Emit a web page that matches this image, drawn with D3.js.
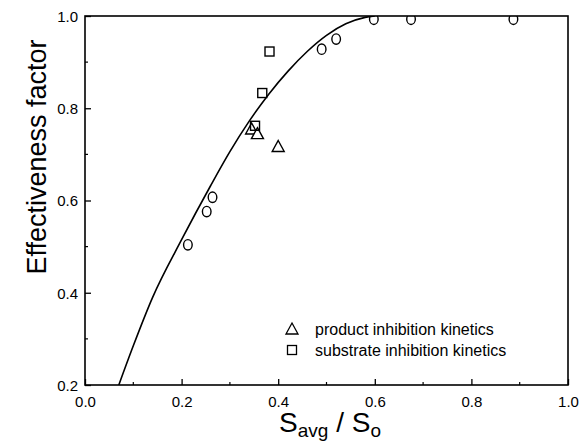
<!DOCTYPE html>
<html>
<head>
<meta charset="utf-8">
<script src="https://cdn.jsdelivr.net/npm/d3@7"></script>
<style>
  html, body { margin: 0; padding: 0; background: #fff; }
  svg { display: block; font-family: "Liberation Sans", Arial, sans-serif; }
</style>
</head>
<body>
<svg id="chart" width="586" height="446"></svg>
<script>
// Model curve: effectiveness factor vs. relative average substrate level
const curveX = [0.070, 0.100, 0.140, 0.200, 0.260, 0.300, 0.340, 0.380, 0.420, 0.460, 0.500, 0.540, 0.580, 0.600];
const curveY = [0.200, 0.285, 0.390, 0.515, 0.632, 0.706, 0.772, 0.830, 0.880, 0.923, 0.958, 0.983, 0.997, 1.000];

// Measured points (circles)
const circleX = [0.213, 0.252, 0.264, 0.490, 0.520, 0.598, 0.675, 0.887];
const circleY = [0.504, 0.576, 0.607, 0.928, 0.950, 0.993, 0.993, 0.993];

// Product inhibition kinetics (triangles)
const triX = [0.345, 0.357, 0.400];
const triY = [0.755, 0.745, 0.717];

// Substrate inhibition kinetics (squares)
const sqX = [0.352, 0.367, 0.382];
const sqY = [0.762, 0.833, 0.923];

const xTicks = [0.0, 0.2, 0.4, 0.6, 0.8, 1.0];
const yTicks = [0.2, 0.4, 0.6, 0.8, 1.0];
const xMinor = [0.1, 0.3, 0.5, 0.7, 0.9];
const yMinor = [0.3, 0.5, 0.7, 0.9];

const legendLabels = ["product inhibition kinetics", "substrate inhibition kinetics"];

const svg = d3.select("#chart");
const mLeft = 85, mRight = 568, mTop = 16, mBottom = 385;

const x = d3.scaleLinear().domain([0, 1]).range([mLeft, mRight]);
const y = d3.scaleLinear().domain([0.2, 1]).range([mBottom, mTop]);

const fmt = d3.format(".1f");

// Clip marks to the frame
svg.append("defs").append("clipPath").attr("id", "plotclip")
  .append("rect").attr("x", mLeft).attr("y", mTop).attr("width", mRight - mLeft).attr("height", mBottom - mTop);

const plot = svg.append("g").attr("clip-path", "url(#plotclip)");

// Fitted curve
const line = d3.line().x(d => x(d[0])).y(d => y(d[1])).curve(d3.curveMonotoneX);
plot.append("path")
  .datum(d3.zip(curveX, curveY))
  .attr("d", line)
  .attr("fill", "none")
  .attr("stroke", "#000")
  .attr("stroke-width", 1.6);

// Circles
plot.selectAll("ellipse.c").data(d3.zip(circleX, circleY)).join("ellipse")
  .attr("class", "c")
  .attr("cx", d => x(d[0])).attr("cy", d => y(d[1]))
  .attr("rx", 4.3).attr("ry", 5.2)
  .attr("fill", "none").attr("stroke", "#000").attr("stroke-width", 1.4);

// Triangles
const triPath = (cx, cy) => {
  const h = 10, w = 12;
  return `M${cx},${cy - h / 2 - 1}L${cx + w / 2},${cy + h / 2}L${cx - w / 2},${cy + h / 2}Z`;
};
plot.selectAll("path.t").data(d3.zip(triX, triY)).join("path")
  .attr("class", "t")
  .attr("d", d => triPath(x(d[0]), y(d[1])))
  .attr("fill", "#fff").attr("stroke", "#000").attr("stroke-width", 1.4);

// Squares
plot.selectAll("rect.s").data(d3.zip(sqX, sqY)).join("rect")
  .attr("class", "s")
  .attr("x", d => x(d[0]) - 4.5).attr("y", d => y(d[1]) - 4.5)
  .attr("width", 9).attr("height", 9)
  .attr("fill", "none").attr("stroke", "#000").attr("stroke-width", 1.4);

// Axes with inward ticks
const xAxis = d3.axisBottom(x).tickValues(xTicks).tickFormat(fmt).tickSizeInner(-6).tickSizeOuter(0).tickPadding(11);
const yAxis = d3.axisLeft(y).tickValues(yTicks).tickFormat(fmt).tickSizeInner(-6).tickSizeOuter(0).tickPadding(7);

const gx = svg.append("g").attr("transform", `translate(0,${mBottom})`).call(xAxis);
const gy = svg.append("g").attr("transform", `translate(${mLeft},0)`).call(yAxis);
[gx, gy].forEach(g => {
  g.select(".domain").remove();
  g.selectAll(".tick line").attr("stroke", "#000").attr("stroke-width", 1.3);
  g.selectAll(".tick text").attr("fill", "#000").style("font-size", "15px")
    .style("font-family", "'Liberation Sans', Arial, sans-serif");
});
gy.selectAll(".tick text").attr("dy", "0.35em");

// Minor ticks
svg.append("g").selectAll("line").data(xMinor).join("line")
  .attr("x1", d => x(d)).attr("x2", d => x(d))
  .attr("y1", mBottom).attr("y2", mBottom - 3)
  .attr("stroke", "#000").attr("stroke-width", 1.2);
svg.append("g").selectAll("line").data(yMinor).join("line")
  .attr("x1", mLeft).attr("x2", mLeft + 3)
  .attr("y1", d => y(d)).attr("y2", d => y(d))
  .attr("stroke", "#000").attr("stroke-width", 1.2);

// Frame
svg.append("rect")
  .attr("x", mLeft).attr("y", mTop).attr("width", mRight - mLeft).attr("height", mBottom - mTop)
  .attr("fill", "none").attr("stroke", "#000").attr("stroke-width", 1.6);

// Axis titles
svg.append("text")
  .attr("transform", `translate(46,${157}) rotate(-90)`)
  .attr("text-anchor", "middle")
  .style("font-size", "27px")
  .text("Effectiveness factor");

const xt = svg.append("text")
  .attr("x", 330).attr("y", 432)
  .attr("text-anchor", "middle")
  .style("font-size", "28px");
xt.append("tspan").text("S");
xt.append("tspan").attr("dy", 5).style("font-size", "19px").text("avg");
xt.append("tspan").attr("dy", -5).text(" / S");
xt.append("tspan").attr("dy", 5).style("font-size", "19px").text("o");

// Legend
const lg = svg.append("g");
lg.append("path").attr("d", triPath(292, 329))
  .attr("fill", "none").attr("stroke", "#000").attr("stroke-width", 1.3);
lg.append("rect").attr("x", 287.5).attr("y", 345.5).attr("width", 9).attr("height", 9)
  .attr("fill", "none").attr("stroke", "#000").attr("stroke-width", 1.3);
lg.selectAll("text").data(legendLabels).join("text")
  .attr("x", 315).attr("y", (d, i) => 335 + i * 21)
  .style("font-size", "16px")
  .text(d => d);
</script>
</body>
</html>
